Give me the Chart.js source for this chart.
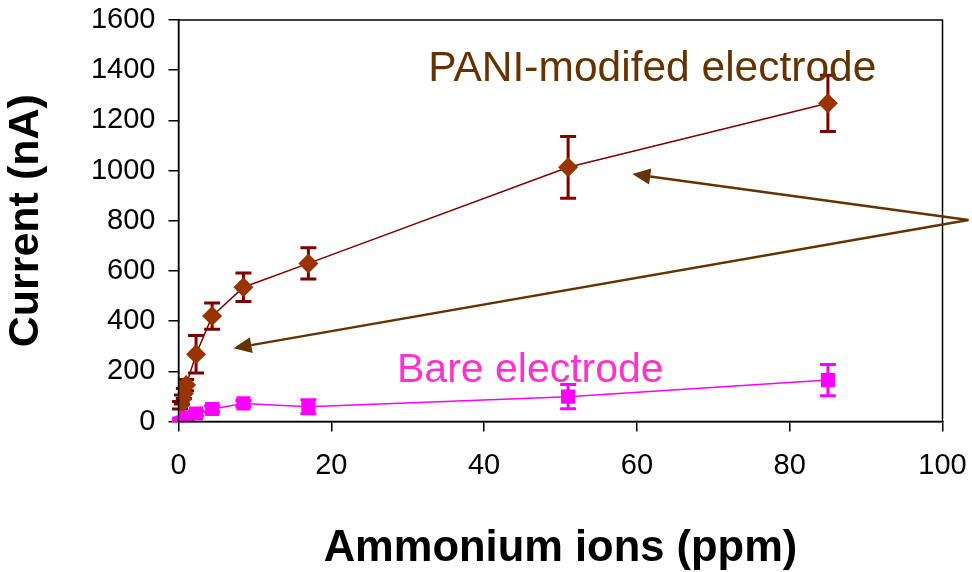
<!DOCTYPE html>
<html>
<head>
<meta charset="utf-8">
<script src="https://cdn.jsdelivr.net/npm/chart.js@4"></script>
<style>
  html, body { margin: 0; padding: 0; background: #fff; }
  canvas { display: block; }
</style>
</head>
<body>
<canvas id="myChart" width="972" height="572"></canvas>
<script>
// 농도 (ppm)
const ammonium = [0.2, 0.45, 0.7, 1.0, 2.3, 4.4, 8.5, 17, 51, 85];

// PANI 전극 전류 (nA) 와 오차
const paniCurrent = [65, 88, 112, 145, 268, 420, 535, 630, 1013, 1268];
const paniError = [15, 18, 20, 22, 75, 52, 57, 62, 123, 112];

// bare 전극 전류 (nA) 와 오차
const bareCurrent = [8, 10, 12, 15, 32, 50, 72, 59, 99, 165];
const bareError = [5, 5, 6, 8, 10, 12, 12, 28, 48, 62];

// 축 눈금
const xTicks = [0, 20, 40, 60, 80, 100];
const yTicks = [0, 200, 400, 600, 800, 1000, 1200, 1400, 1600];

const FONT = "'Liberation Sans', Arial, sans-serif";

function toPoints(ys) {
  return ammonium.map(function (x, i) {
    return { x: x, y: ys[i] };
  });
}

// 오차 막대
const errorBars = {
  id: "errorBars",
  beforeDatasetsDraw(chart) {
    const ctx = chart.ctx;
    const xs = chart.scales.x;
    const ys = chart.scales.y;
    chart.data.datasets.forEach(function (ds) {
      const err = ds.errors;
      ctx.save();
      ctx.strokeStyle = ds.errorColor;
      ctx.lineWidth = 3;
      ds.data.forEach(function (p, i) {
        const px = xs.getPixelForValue(p.x);
        const top = ys.getPixelForValue(p.y + err[i]);
        const bot = ys.getPixelForValue(p.y - err[i]);
        ctx.beginPath();
        ctx.moveTo(px, top);
        ctx.lineTo(px, bot);
        ctx.moveTo(px - 8, top);
        ctx.lineTo(px + 8, top);
        ctx.moveTo(px - 8, bot);
        ctx.lineTo(px + 8, bot);
        ctx.stroke();
      });
      ctx.restore();
    });
  },
};

// 테두리, 라벨, 화살표
const notes = {
  id: "notes",
  afterDatasetsDraw(chart) {
    const ctx = chart.ctx;
    const a = chart.chartArea;
    const xs = chart.scales.x;
    const ys = chart.scales.y;
    const px = (v) => xs.getPixelForValue(v);
    const py = (v) => ys.getPixelForValue(v);

    ctx.save();
    ctx.strokeStyle = "#000";
    ctx.lineWidth = 1.5;
    ctx.strokeRect(a.left, a.top, a.right - a.left, a.bottom - a.top);

    ctx.textBaseline = "alphabetic";
    ctx.textAlign = "left";
    ctx.font = "42.5px " + FONT;
    ctx.fillStyle = "#663300";
    ctx.fillText("PANI-modifed electrode", px(32.7), py(1358));

    ctx.font = "41px " + FONT;
    ctx.fillStyle = "#ff33cc";
    ctx.fillText("Bare electrode", px(28.6), py(156));

    // 화살표
    const apex = { x: 103.4, y: 803 };
    const tips = [
      { x: 59.4, y: 986 },
      { x: 7.2, y: 292 },
    ];
    ctx.strokeStyle = "#663300";
    ctx.fillStyle = "#663300";
    ctx.lineWidth = 2.5;
    tips.forEach(function (t) {
      const x0 = px(apex.x), y0 = py(apex.y);
      const x1 = px(t.x), y1 = py(t.y);
      const ang = Math.atan2(y1 - y0, x1 - x0);
      const len = 18, half = 8;
      const bx = x1 - len * Math.cos(ang);
      const by = y1 - len * Math.sin(ang);
      ctx.beginPath();
      ctx.moveTo(x0, y0);
      ctx.lineTo(bx, by);
      ctx.stroke();
      ctx.beginPath();
      ctx.moveTo(x1, y1);
      ctx.lineTo(bx + half * Math.sin(ang), by - half * Math.cos(ang));
      ctx.lineTo(bx - half * Math.sin(ang), by + half * Math.cos(ang));
      ctx.closePath();
      ctx.fill();
    });
    ctx.restore();
  },
};

const ctx = document.getElementById("myChart").getContext("2d");
const myChart = new Chart(ctx, {
  type: "scatter",
  data: {
    datasets: [
      {
        label: "Bare electrode",
        data: toPoints(bareCurrent),
        errors: bareError,
        errorColor: "#ff00ff",
        showLine: true,
        borderColor: "#ff00ff",
        borderWidth: 1.5,
        backgroundColor: "#ff00ff",
        pointStyle: "rect",
        pointRadius: 10,
        pointBorderWidth: 0,
      },
      {
        label: "PANI-modifed electrode",
        data: toPoints(paniCurrent),
        errors: paniError,
        errorColor: "#800000",
        showLine: true,
        borderColor: "#800000",
        borderWidth: 1.5,
        backgroundColor: "#993300",
        pointStyle: "rectRot",
        pointRadius: 10,
        pointBorderWidth: 0,
      },
    ],
  },
  options: {
    responsive: false,
    animation: false,
    devicePixelRatio: 1,
    layout: { padding: { left: 0, right: 29.5, top: 20, bottom: 0 } },
    plugins: {
      legend: { display: false },
      tooltip: { enabled: false },
    },
    elements: { line: { tension: 0 } },
    scales: {
      x: {
        type: "linear",
        min: 0,
        max: 100,
        afterBuildTicks: (s) => { s.ticks = xTicks.map((v) => ({ value: v })); },
        afterFit: (s) => {
          s.height = 150.5;
          s.paddingLeft = 0;
          s.paddingRight = 0;
        },
        ticks: {
          color: "#000",
          padding: 17,
          maxRotation: 0,
          font: { size: 29, family: FONT },
          callback: (v) => String(v),
        },
        grid: { drawOnChartArea: false, drawTicks: true, tickLength: 10, color: "#000", lineWidth: 1.5 },
        border: { color: "#000", width: 1.5 },
        title: {
          display: true,
          text: "Ammonium ions (ppm)",
          color: "#000",
          font: { size: 43.5, weight: "bold", family: FONT },
          padding: { top: 0, bottom: -3 },
        },
      },
      y: {
        min: 0,
        max: 1600,
        afterBuildTicks: (s) => { s.ticks = yTicks.map((v) => ({ value: v })); },
        afterFit: (s) => {
          s.width = 178.5;
          s.paddingTop = 0;
          s.paddingBottom = 0;
        },
        ticks: {
          color: "#000",
          padding: 13,
          font: { size: 29, family: FONT },
          callback: (v) => String(v),
        },
        grid: { drawOnChartArea: false, drawTicks: true, tickLength: 10, color: "#000", lineWidth: 1.5 },
        border: { color: "#000", width: 1.5 },
        title: {
          display: true,
          text: "Current (nA)",
          color: "#000",
          font: { size: 43, weight: "bold", family: FONT },
          padding: { top: 0, bottom: 0 },
        },
      },
    },
  },
  plugins: [errorBars, notes],
});
</script>
</body>
</html>
